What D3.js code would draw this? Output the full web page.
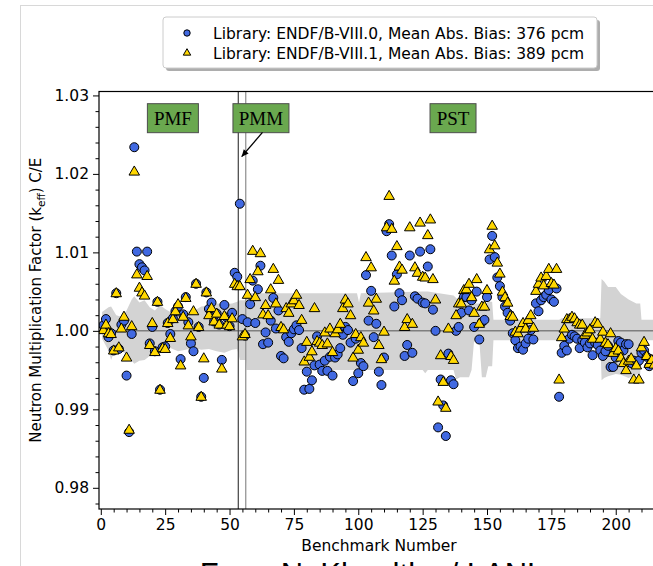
<!DOCTYPE html>
<html><head><meta charset="utf-8">
<script src="https://cdn.jsdelivr.net/npm/d3@7/dist/d3.min.js"></script>
<style>body{margin:0;background:#fff}svg{display:block}text{font-family:"DejaVu Sans",sans-serif}</style>
</head><body><svg id="c" width="653" height="566"></svg>
<script>
// ENDF/B-VIII.0 C/E (circles), benchmarks 1..215
const b80 = [
1.0007,1.0015,0.9992,0.9997,0.9975,1.0048,0.9977,1.0008,1.0013,0.9943,
0.9871,0.9996,1.0234,1.0101,1.0085,1.0081,1.0077,1.0101,0.9984,1.0005,
0.9974,1.0037,0.9925,0.9979,0.9980,1.0010,0.9996,1.0016,1.0025,1.0031,
0.9964,1.0021,1.0043,1.0011,0.9984,0.9974,1.0060,1.0005,0.9916,0.9940,
1.0049,1.0028,1.0036,1.0012,1.0022,1.0008,0.9963,1.0033,1.0017,1.0006,
1.0023,1.0074,1.0069,1.0162,1.0015,0.9994,1.0011,1.0034,1.0064,1.0010,
1.0053,1.0083,0.9983,0.9998,0.9985,1.0013,1.0042,1.0003,1.0026,0.9968,
0.9965,0.9992,0.9986,0.9997,1.0002,1.0007,1.0001,0.9978,0.9925,0.9948,
0.9926,0.9937,0.9956,0.9993,0.9957,0.9949,0.9962,0.9949,0.9967,0.9943,
0.9966,0.9970,0.9978,0.9995,1.0005,1.0001,0.9985,0.9936,0.9990,0.9946,
0.9959,0.9955,1.0071,1.0013,1.0051,0.9992,1.0009,0.9948,0.9931,0.9966,
1.0127,1.0136,1.0096,1.0031,1.0072,1.0048,1.0039,0.9968,0.9982,1.0096,
0.9972,1.0044,1.0041,1.0101,1.0036,1.0035,1.0082,1.0104,1.0027,1.0000,
0.9877,0.9938,0.9905,0.9866,0.9971,0.9937,0.9932,1.0000,1.0005,1.0023,
1.0043,1.0043,1.0026,1.0039,1.0005,1.0050,0.9989,1.0011,1.0014,1.0043,
1.0091,1.0121,1.0094,1.0068,1.0057,1.0043,1.0031,1.0023,1.0013,0.9997,
0.9988,0.9978,0.9980,0.9976,0.9984,0.9990,1.0001,0.9989,1.0035,1.0025,
1.0039,1.0043,1.0046,1.0052,1.0040,1.0037,1.0054,0.9916,0.9972,0.9981,
0.9975,0.9990,0.9995,0.9993,0.9990,0.9978,0.9988,0.9985,0.9979,0.9984,
0.9969,0.9985,0.9982,0.9975,0.9968,0.9974,0.9981,0.9954,0.9954,0.9966,
0.9987,0.9985,0.9975,0.9983,0.9983,0.9959,0.9962,0.9959,0.9962,0.9972,
0.9975,0.9967,0.9955,0.9962,0.9958];
// ENDF/B-VIII.1 C/E (triangles)
const b81 = [
1.0001,1.0008,0.9997,0.9996,0.9975,1.0048,0.9979,1.0003,1.0018,0.9966,
0.9874,1.0006,1.0203,1.0072,1.0055,1.0049,1.0045,1.0070,0.9982,1.0010,
0.9973,1.0037,0.9925,0.9978,0.9977,1.0010,0.9991,1.0015,1.0025,1.0034,
0.9956,1.0018,1.0042,1.0007,0.9993,1.0025,1.0060,1.0005,0.9916,0.9965,
1.0049,1.0020,1.0029,1.0012,1.0022,1.0008,0.9952,1.0019,1.0008,1.0006,
1.0016,1.0060,1.0057,1.0057,0.9993,0.9996,1.0046,1.0066,1.0102,1.0043,
1.0076,1.0099,1.0021,1.0033,1.0020,1.0053,1.0079,1.0035,1.0065,1.0005,
1.0002,1.0029,1.0023,1.0035,1.0039,1.0046,1.0033,1.0014,0.9961,0.9986,
0.9967,0.9974,1.0029,0.9987,0.9985,0.9982,0.9998,0.9984,1.0003,0.9973,
0.9997,1.0002,1.0009,1.0029,1.0040,1.0035,1.0020,0.9966,0.9996,0.9976,
0.9992,0.9985,1.0094,1.0036,1.0081,1.0026,1.0041,0.9982,0.9964,0.9999,
1.0132,1.0172,1.0130,1.0064,1.0108,1.0082,1.0078,1.0005,1.0015,1.0132,
1.0009,1.0081,1.0074,1.0138,1.0069,1.0068,1.0122,1.0142,1.0066,1.0040,
0.9910,0.9969,0.9935,0.9902,1.0003,0.9968,0.9963,1.0020,1.0035,1.0035,
1.0052,1.0053,1.0060,1.0043,1.0023,1.0066,1.0009,1.0031,1.0031,1.0052,
1.0104,1.0134,1.0109,1.0087,1.0073,1.0050,1.0043,1.0036,1.0019,1.0018,
0.9999,0.9997,1.0003,1.0010,1.0003,1.0014,1.0020,1.0004,1.0051,1.0060,
1.0068,1.0058,1.0070,1.0079,1.0061,1.0059,1.0079,0.9938,0.9992,1.0003,
1.0015,1.0015,1.0018,1.0016,1.0011,1.0008,1.0008,0.9995,0.9998,1.0002,
0.9990,1.0011,1.0009,0.9990,0.9999,0.9985,0.9983,0.9997,0.9972,0.9978,
0.9975,0.9966,0.9959,0.9950,0.9962,0.9965,0.9938,0.9956,0.9938,0.9979,
0.9986,0.9968,0.9958,0.9963,0.9957];
const benchmarks = b80.map((_, i) => i + 1);

// experimental uncertainty band (lower / upper C/E) at benchmark positions
const bandX  = [0.5,3,4,6,8,10,12,13,15,17,19,21,23,25,27,30,33,36,39,42,45,48,51,53,54,56.4,56.6,99.5,100.3,101,125,126,127,137,138,139.5,142,143,144,145,147,148,149.5,150.5,152,152.5,178,179,194,194.5,195.5,197,200,202,205,208,209.5,210,220];
const bandLo = [0.9990,0.9975,0.9963,0.9980,0.9975,0.9970,0.9962,0.9958,0.9962,0.9963,0.9968,0.9970,0.9976,0.9978,0.9978,0.9974,0.9976,0.9978,0.9976,0.9977,0.9974,0.9972,0.9976,0.9977,0.9963,0.9963,0.9950,0.9950,0.9950,0.9950,0.9950,0.9946,0.9950,0.9950,0.9938,0.9941,0.9941,0.9941,0.9950,0.9988,0.9988,0.9941,0.9941,0.9955,0.9955,0.9988,0.9988,0.9988,0.9988,0.9937,0.9940,0.9942,0.9945,0.9944,0.9940,0.9944,0.9945,0.9988,0.9988];
const bandHi = [1.0024,1.0030,1.0031,1.0020,1.0018,1.0026,1.0040,1.0044,1.0036,1.0039,1.0030,1.0026,1.0033,1.0028,1.0024,1.0024,1.0026,1.0025,1.0031,1.0032,1.0035,1.0034,1.0035,1.0037,1.0039,1.0039,1.0048,1.0048,1.0036,1.0048,1.0050,1.0050,1.0050,1.0045,1.0042,1.0037,1.0037,1.0058,1.0037,1.0035,1.0035,1.0033,1.0035,1.0037,1.0037,1.0014,1.0014,1.0016,1.0016,1.0066,1.0063,1.0056,1.0056,1.0047,1.0040,1.0035,1.0035,1.0014,1.0014];

const xTicks = [0,25,50,75,100,125,150,175,200];
const yTicks = [0.98,0.99,1.00,1.01,1.02,1.03];
const legendLabels = ["Library: ENDF/B-VIII.0, Mean Abs. Bias: 376 pcm",
                      "Library: ENDF/B-VIII.1, Mean Abs. Bias: 389 pcm"];
const groupLabels = ["PMF","PMM","PST"];
const groupCenters = [28, 62.2, 136.8];
const pmmBounds = [53.4, 56.3];

const svg = d3.select("#c");
const L = 99, R = 659, T = 91.5, B = 509;
const FS = "15.5px";
const x = d3.scaleLinear().domain([-0.7, 216.8]).range([L, R]);
const y = d3.scaleLinear().domain([0.9773, 1.0305]).range([B, T]);

// figure frame
svg.append("rect").attr("x",20.5).attr("y",5.5).attr("width",700).attr("height",700)
  .attr("fill","none").attr("stroke","#d8d8d8");

svg.append("defs").append("clipPath").attr("id","clip")
  .append("rect").attr("x",L).attr("y",T).attr("width",R-L).attr("height",B-T);
const plot = svg.append("g").attr("clip-path","url(#clip)");

// band
const bandData = bandX.map((d,i)=>({x:d, lo:bandLo[i], hi:bandHi[i]}));
plot.append("path").datum(bandData)
  .attr("d", d3.area().x(d=>x(d.x)).y0(d=>y(d.lo)).y1(d=>y(d.hi)))
  .attr("fill","#d3d3d3");

// reference line at 1.0
plot.append("line").attr("x1",L).attr("x2",R).attr("y1",y(1)).attr("y2",y(1))
  .attr("stroke","#7f7f7f").attr("stroke-width",1.5);

// PMM boundaries
plot.append("line").attr("x1",x(pmmBounds[0])).attr("x2",x(pmmBounds[0])).attr("y1",T).attr("y2",B)
  .attr("stroke","#404040").attr("stroke-width",1.2);
plot.append("line").attr("x1",x(pmmBounds[1])).attr("x2",x(pmmBounds[1])).attr("y1",T).attr("y2",B)
  .attr("stroke","#8c8c8c").attr("stroke-width",1.2);

// circles
plot.append("g").selectAll("circle").data(benchmarks).join("circle")
  .attr("cx", d=>x(d)).attr("cy", (d,i)=>y(b80[i])).attr("r",4.5)
  .attr("fill","#4169e1").attr("stroke","#000").attr("stroke-width",1);
// triangles
const tri = d3.symbol().type(d3.symbolTriangle).size(48);
plot.append("g").selectAll("path").data(benchmarks).join("path")
  .attr("d", tri).attr("transform",(d,i)=>`translate(${x(d)},${y(b81[i])+0.5})`)
  .attr("fill","#ffd700").attr("stroke","#000").attr("stroke-width",1);

// group labels
const boxW = [51, 56, 46];
groupLabels.forEach((g,i)=>{
  const cx = x(groupCenters[i]), cy = y(1.0271);
  svg.append("rect").attr("x",cx-boxW[i]/2).attr("y",cy-14.5).attr("width",boxW[i]).attr("height",29)
    .attr("fill","#6aa84f").attr("stroke","#4d4d4d").attr("stroke-width",1);
  svg.append("text").attr("x",cx).attr("y",cy+6.5).attr("text-anchor","middle")
    .style("font-family","'Liberation Serif',serif").style("font-size","19px").attr("fill","#000").text(g);
});
// arrow to PMM point
const ax1 = x(62.8), ay1 = y(1.0253), ax2 = x(54.7), ay2 = y(1.0222);
svg.append("line").attr("x1",ax1).attr("y1",ay1).attr("x2",ax2).attr("y2",ay2).attr("stroke","#000").attr("stroke-width",1.3);
const ang = Math.atan2(ay2-ay1, ax2-ax1);
const hl = 7, hw = 3.2;
svg.append("path").attr("d", `M${ax2},${ay2} L${ax2-hl*Math.cos(ang)+hw*Math.sin(ang)},${ay2-hl*Math.sin(ang)-hw*Math.cos(ang)} L${ax2-hl*Math.cos(ang)-hw*Math.sin(ang)},${ay2-hl*Math.sin(ang)+hw*Math.cos(ang)} Z`).attr("fill","#000");

// axes
const yAxis = svg.append("g").attr("transform",`translate(${L},0)`)
  .call(d3.axisLeft(y).tickValues(yTicks).tickFormat(d3.format(".2f")).tickSize(6).tickPadding(4));
const yMinor = svg.append("g").attr("transform",`translate(${L},0)`)
  .call(d3.axisLeft(y).tickValues(d3.range(0.978,1.0301,0.002).filter(v=>Math.abs(Math.round(v*100)-v*100)>1e-6)).tickFormat("").tickSize(3.5));
const xAxis = svg.append("g").attr("transform",`translate(0,${B})`)
  .call(d3.axisBottom(x).tickValues(xTicks).tickSize(6).tickPadding(4));
const xMinor = svg.append("g").attr("transform",`translate(0,${B})`)
  .call(d3.axisBottom(x).tickValues(d3.range(5,216,5).filter(v=>v%25!==0)).tickFormat("").tickSize(3.5));
[yAxis,yMinor,xAxis,xMinor].forEach(g=>{
  g.select(".domain").remove();
  g.selectAll("line").attr("stroke","#000").attr("stroke-width",1);
  g.selectAll("text").style("font-family","'DejaVu Sans',sans-serif").style("font-size",FS).attr("fill","#000");
});
// spines
svg.append("rect").attr("x",L).attr("y",T).attr("width",R-L).attr("height",B-T)
  .attr("fill","none").attr("stroke","#000").attr("stroke-width",1.2);

// axis labels
svg.append("text").attr("x",(L+R)/2).attr("y",551).attr("text-anchor","middle")
  .style("font-size",FS).text("Benchmark Number");
const yl = svg.append("text").attr("transform",`translate(41,${(T+B)/2}) rotate(-90)`)
  .attr("text-anchor","middle").style("font-size","15px");
yl.append("tspan").text("Neutron Multiplication Factor (k");
yl.append("tspan").attr("dy",4).style("font-size","10.5px").text("eff");
yl.append("tspan").attr("dy",-4).text(") C/E");

// bottom credit (cut off by the figure edge, as in the source)
svg.append("text").attr("x",372).attr("y",585).attr("text-anchor","middle")
  .style("font-family","'Liberation Sans',sans-serif").style("font-size","31px").text("From N. Kleedtke / LANL");

// legend
const lg = svg.append("g");
lg.append("rect").attr("x",166).attr("y",20).attr("width",434).attr("height",51).attr("rx",3)
  .attr("fill","#999").attr("opacity",0.8);
lg.append("rect").attr("x",163).attr("y",17).attr("width",434).attr("height",51).attr("rx",3)
  .attr("fill","#fff").attr("stroke","#cccccc");
lg.append("circle").attr("cx",187).attr("cy",33).attr("r",3.2).attr("fill","#4169e1").attr("stroke","#000");
lg.append("path").attr("d",d3.symbol().type(d3.symbolTriangle).size(24)).attr("transform","translate(187,53)")
  .attr("fill","#ffd700").attr("stroke","#000");
legendLabels.forEach((t,i)=>{
  lg.append("text").attr("x",213).attr("y",38.5+i*20).style("font-size",FS).text(t);
});
</script></body></html>
